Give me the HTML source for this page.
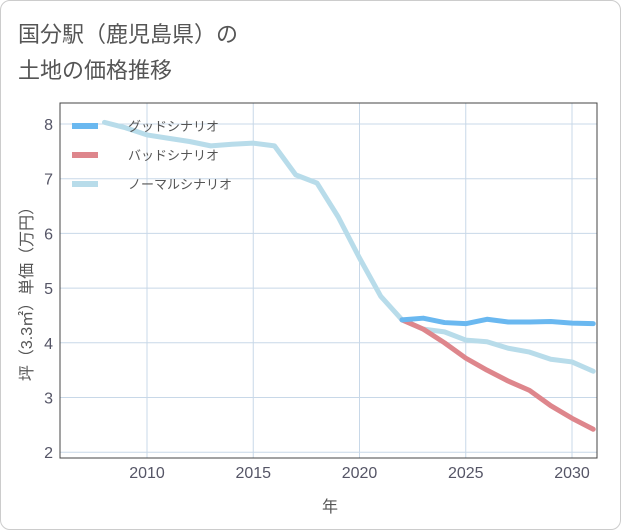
<!DOCTYPE html>
<html><head><meta charset="utf-8"><style>
body{margin:0;background:#fff;font-family:"Liberation Sans","Noto Sans CJK JP",sans-serif;}
#card{position:absolute;left:0;top:0;width:619px;height:528px;border:1px solid #ccc;border-radius:10px;background:#fff;}
</style></head><body>
<div id="card">
<svg id="chart" width="621" height="530" style="position:absolute;left:-1px;top:-1px">
<text x="18" y="42" font-size="22" fill="#555">国分駅（鹿児島県）の</text>
<text x="18" y="78" font-size="22" fill="#555">土地の価格推移</text>
<g id="grid"></g><g id="series"></g><g id="legend"></g>
<text x="330" y="512" font-size="16" fill="#555" text-anchor="middle">年</text>
<text transform="translate(32,290) rotate(-90)" font-size="16" fill="#555" text-anchor="middle">坪（3.3㎡）単価（万円）</text>
</svg></div>
<script>
const years=[2008,2009,2010,2011,2012,2013,2014,2015,2016,2017,2018,2019,2020,2021,2022,2023,2024,2025,2026,2027,2028,2029,2030,2031];
const normal=[8.03,7.93,7.8,7.74,7.68,7.6,7.63,7.65,7.6,7.07,6.92,6.3,5.55,4.85,4.42,4.25,4.2,4.05,4.02,3.9,3.83,3.7,3.65,3.48];
const futYears=[2022,2023,2024,2025,2026,2027,2028,2029,2030,2031];
const good=[4.42,4.45,4.37,4.35,4.43,4.38,4.38,4.39,4.36,4.35];
const bad=[4.42,4.25,4.0,3.72,3.5,3.3,3.13,2.85,2.62,2.42];
const xTicks=[2010,2015,2020,2025,2030];
const yTicks=[2,3,4,5,6,7,8];
const L=60,R=597,T=103,B=458;
const x=v=>147+(v-2010)*21.25, y=v=>124+(8-v)*54.7;
const ns="http://www.w3.org/2000/svg";
function mk(p,t,a){const e=document.createElementNS(ns,t);for(const k in a)e.setAttribute(k,a[k]);p.appendChild(e);return e;}
const g=document.getElementById('grid');
xTicks.forEach(v=>{const l=mk(g,'line',{x1:x(v),x2:x(v),y1:T,y2:B,stroke:'#c8d8e8'});

const t=mk(g,'text',{x:x(v),y:478,'font-size':16,fill:'#556','text-anchor':'middle'});t.textContent=v;
});
yTicks.forEach(v=>{const l=mk(g,'line',{x1:L,x2:R,y1:y(v),y2:y(v),stroke:'#c8d8e8'});

const t=mk(g,'text',{x:53,y:y(v)+6,'font-size':16,fill:'#556','text-anchor':'end'});t.textContent=v;
});
const fr=mk(g,'rect',{x:L,y:T,width:R-L,height:B-T,fill:'none',stroke:'#444','stroke-width':1});

const s=document.getElementById('series');
s.innerHTML='<clipPath id="cp"><rect x="'+L+'" y="'+T+'" width="'+(R-L)+'" height="'+(B-T)+'"/></clipPath>';
s.setAttribute('clip-path','url(#cp)');
function line(xs,vs,c,n){const p=mk(s,'polyline',{points:xs.map((v,i)=>x(v)+','+y(vs[i])).join(' '),fill:'none',stroke:c,'stroke-width':5,'stroke-linejoin':'round','stroke-linecap':'round'});
}
line(years,normal,'#b8dcea','normal-scenario-line');
line(futYears,bad,'#de868c','bad-scenario-line');
line(futYears,good,'#6ab8f0','good-scenario-line');
const lg=document.getElementById('legend');
[['グッドシナリオ','#6ab8f0'],['バッドシナリオ','#de868c'],['ノーマルシナリオ','#b8dcea']].forEach((d,i)=>{
const yy=126+i*29;
const l=mk(lg,'line',{x1:72,x2:98,y1:yy,y2:yy,stroke:d[1],'stroke-width':6});

const t=mk(lg,'text',{x:128,y:yy+5,'font-size':13,fill:'#555'});t.textContent=d[0];
});
</script></body></html>
